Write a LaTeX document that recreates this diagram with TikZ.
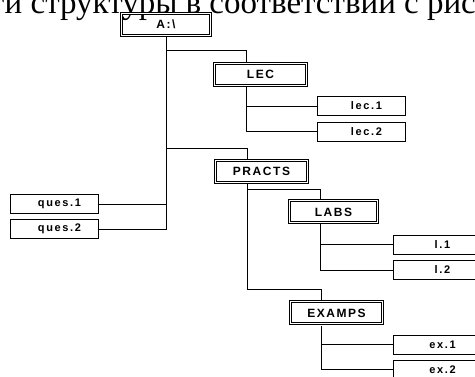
\documentclass[tikz,border=0pt]{standalone}
\usepackage{fontspec}
\setmainfont{Liberation Serif}
\setsansfont{Liberation Sans}

\tikzset{
	folder/.style={draw,double,double distance=1pt,line width=1pt,minimum width=#1,minimum height=22pt,inner sep=0pt,font=\sffamily\bfseries\fontsize{12}{12}\selectfont\addfontfeatures{LetterSpace=13}},
	leaf/.style={draw,line width=0.9pt,minimum width=88pt,minimum height=19pt,inner sep=0pt,font=\sffamily\bfseries\fontsize{11}{11}\selectfont\addfontfeatures{LetterSpace=15},execute at begin node=\hspace*{10pt}},
	wire/.style={line width=0.9pt}
}

\begin{document}
\begin{tikzpicture}[x=1pt,y=-1pt]
			\useasboundingbox (0,0) rectangle (475,377);
			\clip (0,0) rectangle (475,377);
			\node[anchor=base west,inner sep=0pt,font=\fontsize{33}{33}\selectfont] (caption) at (-9,14) {ги структуры в соответствии с рис};

			\node[folder=89pt] (root) at (166,24.5) {A:\textbackslash};
			\node[folder=92pt] (lec) at (260.5,74.5) {LEC};
			\node[folder=92pt] (practs) at (261.5,171.5) {PRACTS};
			\node[folder=88pt] (labs) at (333.5,212) {LABS};
			\node[folder=92pt] (examps) at (336.5,313) {EXAMPS};

			\node[leaf] (lec1) at (361.5,106) {lec.1};
			\node[leaf] (lec2) at (361.5,131.5) {lec.2};
			\node[leaf] (ques1) at (54.5,204) {ques.1};
			\node[leaf] (ques2) at (54.5,229) {ques.2};
			\node[leaf] (l1) at (437.5,244.5) {l.1};
			\node[leaf] (l2) at (437.5,270) {l.2};
			\node[leaf] (ex1) at (437.5,344.5) {ex.1};
			\node[leaf] (ex2) at (437.5,369.5) {ex.2};

			\coordinate (lecin) at (246,62);
			\coordinate (lecout) at (246,87);
			\coordinate (practsin) at (247,159);
			\coordinate (practsout) at (247,184);
			\coordinate (labsin) at (320,200);
			\coordinate (labsout) at (320,224);
			\coordinate (exin) at (321,300);
			\coordinate (exout) at (321,326);

			\draw[wire] (root.south) |- (ques2.east);
			\draw[wire] (root.south) |- (ques1.east);
			\draw[wire] (root.south) ++(0,14) -| (lecin);
			\draw[wire] (root.south) ++(0,112) -| (practsin);

			\draw[wire] (lecout) |- (lec1.west);
			\draw[wire] (lecout) |- (lec2.west);

			\draw[wire] (practsout) -- ++(0,105) -| (exin);
			\draw[wire] (practsout) ++(0,5) -| (labsin);

			\draw[wire] (labsout) |- (l1.west);
			\draw[wire] (labsout) |- (l2.west);

			\draw[wire] (exout) |- (ex1.west);
			\draw[wire] (exout) |- (ex2.west);
		\end{tikzpicture}
\end{document}
